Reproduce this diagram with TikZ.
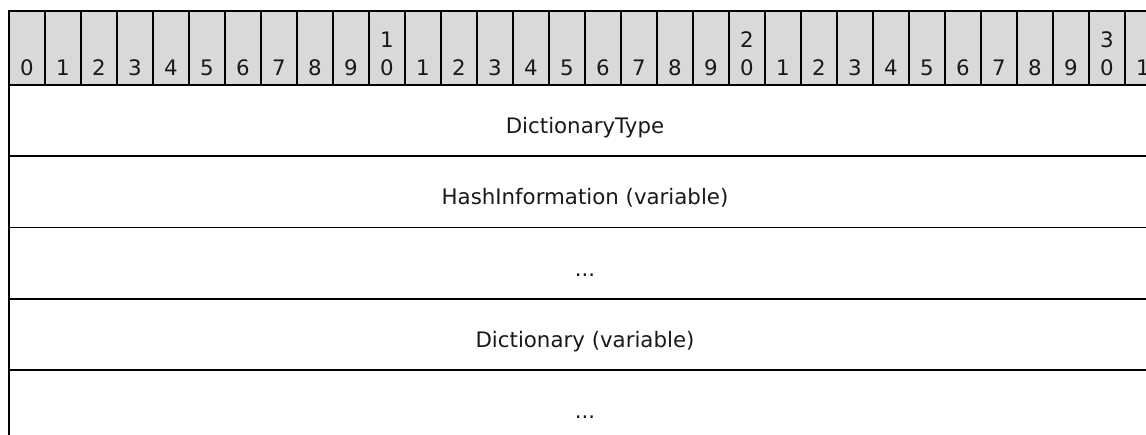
\documentclass[tikz,border=0pt]{standalone}
\usepackage{fontspec}
\setmainfont{DejaVu Sans}
\definecolor{hdr}{HTML}{D9D9D9}
\begin{document}
\begin{tikzpicture}[x=0.75pt,y=-0.75pt,line width=1.2pt,
  lbl/.style={font=\fontsize{16}{19}\selectfont,inner sep=0pt,text=black!90,anchor=base},
  bitcell/.style={draw=black,fill=hdr},
  rowline/.style={draw=black,line width=1.3pt}]
\useasboundingbox (0,0) rectangle (1146,435);
\begin{scope}
\clip (0,0) rectangle (1146,435);
\foreach \i in {0,...,31} {
  \pgfmathtruncatemacro{\r}{mod(\i,10)}
  \pgfmathtruncatemacro{\t}{\i/10}
  \draw[bitcell] ({9+36*\i},11) rectangle ({45+36*\i},85);
  \node[lbl] (b\i) at ({27+36*\i},76) {\r};
  \ifnum\r=0 \ifnum\i>0
    \node[lbl] (t\i) at ({27+36*\i},48) {\t};
  \fi\fi
}
\coordinate (tl) at (9,85);
\coordinate (bl) at (9,441);
\draw[rowline] (tl) -- (bl);
\foreach \y [count=\k] in {156,227.5,299,370} {
  \coordinate (l\k) at (9,\y);
  \coordinate (r\k) at (1161,\y);
  \draw[rowline] (l\k) -- (r\k);
}
\node[lbl] (f1) at (585,133.5) {DictionaryType};
\node[lbl] (f2) at (585,204.5) {HashInformation (variable)};
\node[lbl] (f3) at (585,276) {...};
\node[lbl] (f4) at (585,347.5) {Dictionary (variable)};
\node[lbl] (f5) at (585,418.5) {...};
\end{scope}
\end{tikzpicture}
\end{document}
